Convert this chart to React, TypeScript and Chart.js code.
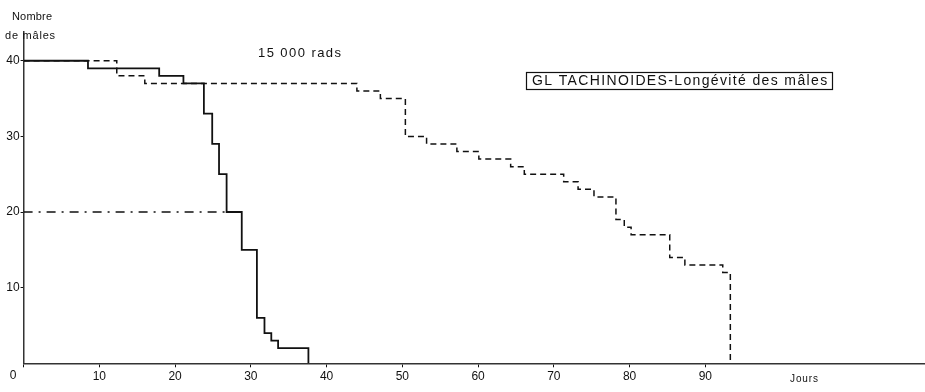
import React, { useEffect, useRef } from "react";
import { Chart, registerables } from "chart.js";

Chart.register(...registerables);

// Survival of males (number alive) per day — GL tachinoides, 15 000 rads
const solidDays = [0, 8.5, 17.9, 21.1, 23.8, 24.9, 25.8, 26.8, 28.8, 30.8, 31.8, 32.7, 33.6, 37.6];
const solidMales = [40, 39, 38, 37, 33, 29, 25, 20, 15, 6, 4, 3, 2, 0];

const dashedDays = [0, 12.3, 16.0, 44.0, 47.1, 50.4, 53.2, 57.2, 60.1, 64.3, 66.1, 71.3, 73.2, 75.3, 78.2, 79.3, 80.2, 85.3, 87.3, 92.3, 93.3];
const dashedMales = [40, 38, 37, 36, 35, 30, 29, 28, 27, 26, 25, 24, 23, 22, 19, 18, 17, 14, 13, 12, 0];

// 50 % line: half of the starting population, up to where the solid curve reaches it
const halfDays = [0, 26.8];
const halfMales = [20, 20];

const xTicks = [0, 10, 20, 30, 40, 50, 60, 70, 80, 90];
const yTicks = [10, 20, 30, 40];

const X_MAX = 119;
const Y_MAX = 43.8;

const titleText = "GL TACHINOIDES-Longévité des mâles";
const doseText = "15 000 rads";
const yTitle1 = "Nombre";
const yTitle2 = "de mâles";
const xTitle = "Jours";

const FONT = "'Liberation Sans', Arial, sans-serif";
const INK = "#111";

const toPoints = (xs: number[], ys: number[]) => xs.map((x, i) => ({ x, y: ys[i] }));

function fitText(ctx: CanvasRenderingContext2D, text: string, x: number, y: number, width: number) {
  (ctx as any).letterSpacing = "0px";
  const w = ctx.measureText(text).width;
  const extra = Math.max(0, (width - w) / Math.max(1, text.length - 1));
  (ctx as any).letterSpacing = extra.toFixed(2) + "px";
  ctx.fillText(text, x, y);
  (ctx as any).letterSpacing = "0px";
}

const annotations = {
  id: "annotations",
  afterDraw(chart: Chart) {
    const ctx = chart.ctx;
    ctx.save();
    ctx.fillStyle = INK;
    ctx.strokeStyle = INK;
    ctx.textBaseline = "middle";
    ctx.textAlign = "left";

    ctx.font = `11px ${FONT}`;
    fitText(ctx, yTitle1, 12, 17, 40);
    fitText(ctx, yTitle2, 5, 36, 50);

    ctx.font = `13px ${FONT}`;
    fitText(ctx, doseText, 258, 53, 83);

    // boxed title
    ctx.lineWidth = 1.2;
    ctx.strokeRect(526.5, 72.5, 306, 17);
    ctx.font = `14px ${FONT}`;
    fitText(ctx, titleText, 532, 81.5, 295);

    ctx.font = `12px ${FONT}`;
    ctx.textAlign = "center";
    ctx.fillText("0", 13, 376);

    ctx.textAlign = "left";
    ctx.font = `10px ${FONT}`;
    fitText(ctx, xTitle, 790, 379, 28);
    ctx.restore();
  },
};

export default function App() {
  const ref = useRef<HTMLCanvasElement | null>(null);

  useEffect(() => {
    if (!ref.current) return;
    const chart = new Chart(ref.current, {
      type: "line",
      data: {
        datasets: [
          {
            data: toPoints(dashedDays, dashedMales),
            stepped: "before",
            borderColor: INK,
            borderWidth: 1.5,
            borderDash: [6, 4],
            pointRadius: 0,
            fill: false,
          },
          {
            data: toPoints(halfDays, halfMales),
            borderColor: INK,
            borderWidth: 1.3,
            borderDash: [9, 6, 2, 6],
            pointRadius: 0,
            fill: false,
          },
          {
            data: toPoints(solidDays, solidMales),
            stepped: "before",
            borderColor: INK,
            borderWidth: 1.8,
            pointRadius: 0,
            fill: false,
          },
        ],
      },
      options: {
        responsive: false,
        animation: false,
        devicePixelRatio: 1,
        layout: { padding: { top: 32, left: 0, right: 0, bottom: 0 } },
        plugins: { legend: { display: false }, tooltip: { enabled: false } },
        scales: {
          x: {
            type: "linear",
            min: 0,
            max: X_MAX,
            afterBuildTicks: (scale: any) => {
              scale.ticks = xTicks.map((v) => ({ value: v }));
            },
            afterFit: (scale: any) => {
              scale.height = 28.7;
            },
            grid: { display: true, drawOnChartArea: false, drawTicks: true, tickLength: 4, color: INK, lineWidth: 1 },
            border: { display: true, color: "#333", width: 1.5 },
            ticks: {
              color: INK,
              padding: 2,
              maxRotation: 0,
              autoSkip: false,
              font: { size: 12, family: FONT },
              callback: (v: any) => (v === 0 ? "" : String(v)),
            },
          },
          y: {
            type: "linear",
            min: 0,
            max: Y_MAX,
            afterBuildTicks: (scale: any) => {
              scale.ticks = yTicks.map((v) => ({ value: v }));
            },
            afterFit: (scale: any) => {
              scale.width = 23.6;
            },
            grid: { display: true, drawOnChartArea: false, drawTicks: true, tickLength: 3, color: INK, lineWidth: 1 },
            border: { display: true, color: "#333", width: 1.5 },
            ticks: {
              color: INK,
              padding: 1,
              autoSkip: false,
              font: { size: 12, family: FONT },
              callback: (v: any) => String(v),
            },
          },
        },
      },
      plugins: [annotations],
    });
    return () => chart.destroy();
  }, []);

  return (
    <div style={{ position: "fixed", left: 0, top: 0, width: 925, height: 392, background: "#fff" }}>
      <canvas ref={ref} width={925} height={392} style={{ display: "block" }} />
    </div>
  );
}
